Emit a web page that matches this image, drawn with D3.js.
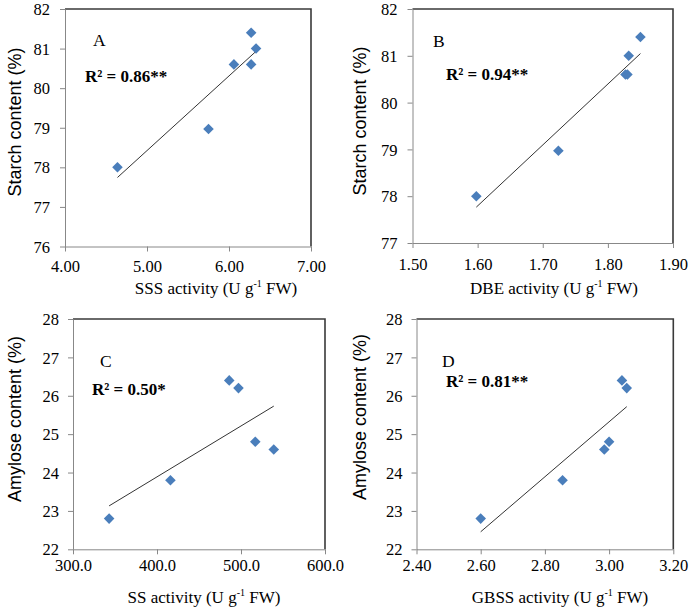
<!DOCTYPE html>
<html>
<head>
<meta charset="utf-8">
<script src="https://cdn.jsdelivr.net/npm/d3@7"></script>
<style>
  body { margin: 0; background: #fff; }
  svg { display: block; }
  .tick text { font-family: "Liberation Serif", "Times New Roman", serif; font-size: 16.5px; fill: #000; }
</style>
</head>
<body>
<svg id="chart" width="691" height="609"></svg>
<script>
// data
const sssActivity  = [4.64, 5.75, 6.06, 6.27, 6.27, 6.33]
const starchA      = [78.0, 78.97, 80.6, 80.6, 81.4, 81.0]
const dbeActivity  = [1.598, 1.724, 1.827, 1.830, 1.832, 1.850]
const starchB      = [78.0, 78.97, 80.6, 80.6, 81.0, 81.4]
const ssActivity   = [343, 416, 486, 497, 517, 539]
const amyloseC     = [22.8, 23.8, 26.4, 26.2, 24.8, 24.6]
const gbssActivity = [2.60, 2.855, 2.985, 3.0, 3.04, 3.055]
const amyloseD     = [22.8, 23.8, 24.6, 24.8, 26.4, 26.2]

const xTicksA = [4, 5, 6, 7]
const yTicksA = [76, 77, 78, 79, 80, 81, 82]
const xTicksB = [1.5, 1.6, 1.7, 1.8, 1.9]
const yTicksB = [77, 78, 79, 80, 81, 82]
const xTicksC = [300, 400, 500, 600]
const yTicksC = [22, 23, 24, 25, 26, 27, 28]
const xTicksD = [2.4, 2.6, 2.8, 3.0, 3.2]
const yTicksD = [22, 23, 24, 25, 26, 27, 28]

const labels  = ["A", "B", "C", "D"]
const r2Texts = ["R\u00b2 = 0.86**", "R\u00b2 = 0.94**", "R\u00b2 = 0.50*", "R\u00b2 = 0.81**"]
const xTitles = ["SSS activity", "DBE activity", "SS activity", "GBSS activity"]
const yTitles = ["Starch content (%)", "Starch content (%)", "Amylose content (%)", "Amylose content (%)"]

const panels = [
  {x: sssActivity, y: starchA, xt: xTicksA, yt: yTicksA, fmt: ".2f",
   box: {l: 65, r: 311, t: 9, b: 246.5}, lab: [93, 46], r2: [85, 82], xTitle: [216, 294], yTitle: [21, 122], yPad: 10, xBase: 272},
  {x: dbeActivity, y: starchB, xt: xTicksB, yt: yTicksB, fmt: ".2f",
   box: {l: 412.5, r: 673, t: 9, b: 243}, lab: [433, 47], r2: [446, 80], xTitle: [554, 294], yTitle: [366, 121], yPad: 10, xBase: 270},
  {x: ssActivity, y: amyloseC, xt: xTicksC, yt: yTicksC, fmt: ".1f",
   box: {l: 73, r: 325, t: 319, b: 549.3}, lab: [100, 367], r2: [92, 395], xTitle: [204, 603], yTitle: [21, 419], yPad: 9, xBase: 571},
  {x: gbssActivity, y: amyloseD, xt: xTicksD, yt: yTicksD, fmt: ".2f",
   box: {l: 416.5, r: 673.3, t: 319, b: 549.3}, lab: [442, 367], r2: [446, 387], xTitle: [560, 603], yTitle: [366, 417], yPad: 9, xBase: 571}
]

const svg = d3.select("#chart")
const serif = '"Liberation Serif", "Times New Roman", serif'
const sans = '"Liberation Sans", Arial, sans-serif'
const diamond = d3.symbol().type(d3.symbolSquare).size(56)

panels.forEach((p, i) => {
  const xScale = d3.scaleLinear().domain(d3.extent(p.xt)).range([p.box.l, p.box.r])
  const yScale = d3.scaleLinear().domain(d3.extent(p.yt)).range([p.box.b, p.box.t])
  const g = svg.append("g")

  // frame: top and right edges darker like the excel plot area
  g.append("path")
    .attr("d", `M${p.box.l},${p.box.t}H${p.box.r}V${p.box.b}`)
    .attr("fill", "none").attr("stroke", "#3a3a3a").attr("stroke-width", 1.6)

  const xAxis = g.append("g")
    .attr("transform", `translate(0,${p.box.b})`)
    .call(d3.axisBottom(xScale).tickValues(p.xt).tickFormat(d3.format(p.fmt)).tickSize(5).tickSizeOuter(0).tickPadding(9))
  const yAxis = g.append("g")
    .attr("transform", `translate(${p.box.l},0)`)
    .call(d3.axisLeft(yScale).tickValues(p.yt).tickFormat(d3.format("d")).tickSize(5).tickSizeOuter(0).tickPadding(p.yPad))
  g.selectAll(".domain, .tick line").attr("stroke", "#888")
  xAxis.selectAll(".tick text").attr("dy", null).attr("y", p.xBase - p.box.b)
  yAxis.selectAll(".tick text").attr("dy", "0.34em")

  // linear fit over the data range
  const mx = d3.mean(p.x), my = d3.mean(p.y)
  const slope = d3.sum(p.x, (v, k) => (v - mx) * (p.y[k] - my)) / d3.sum(p.x, v => (v - mx) ** 2)
  const x0 = d3.min(p.x), x1 = d3.max(p.x)
  g.append("line")
    .attr("x1", xScale(x0)).attr("y1", yScale(my + slope * (x0 - mx)))
    .attr("x2", xScale(x1)).attr("y2", yScale(my + slope * (x1 - mx)))
    .attr("stroke", "#333").attr("stroke-width", 1)

  g.selectAll("path.pt")
    .data(p.x.map((v, k) => [v, p.y[k]]))
    .enter().append("path")
    .classed("pt", true)
    .attr("d", diamond)
    .attr("transform", d => `translate(${xScale(d[0])},${yScale(d[1])}) rotate(45)`)
    .attr("fill", "#4a7ebb")

  g.append("text").attr("x", p.lab[0]).attr("y", p.lab[1])
    .attr("font-family", serif).attr("font-size", 17.5).text(labels[i])
  g.append("text").attr("x", p.r2[0]).attr("y", p.r2[1])
    .attr("font-family", serif).attr("font-size", 17).attr("font-weight", "bold").text(r2Texts[i])

  const xt = g.append("text").attr("x", p.xTitle[0]).attr("y", p.xTitle[1])
    .attr("text-anchor", "middle").attr("font-family", serif).attr("font-size", 17)
  xt.append("tspan").text(xTitles[i] + " (U g")
  xt.append("tspan").attr("font-size", 10).attr("dy", -7).text("-1")
  xt.append("tspan").attr("dy", 7).text(" FW)")

  g.append("text")
    .attr("transform", `translate(${p.yTitle[0]},${p.yTitle[1]}) rotate(-90)`)
    .attr("text-anchor", "middle").attr("font-family", sans).attr("font-size", 18)
    .text(yTitles[i])
})
</script>
</body>
</html>
